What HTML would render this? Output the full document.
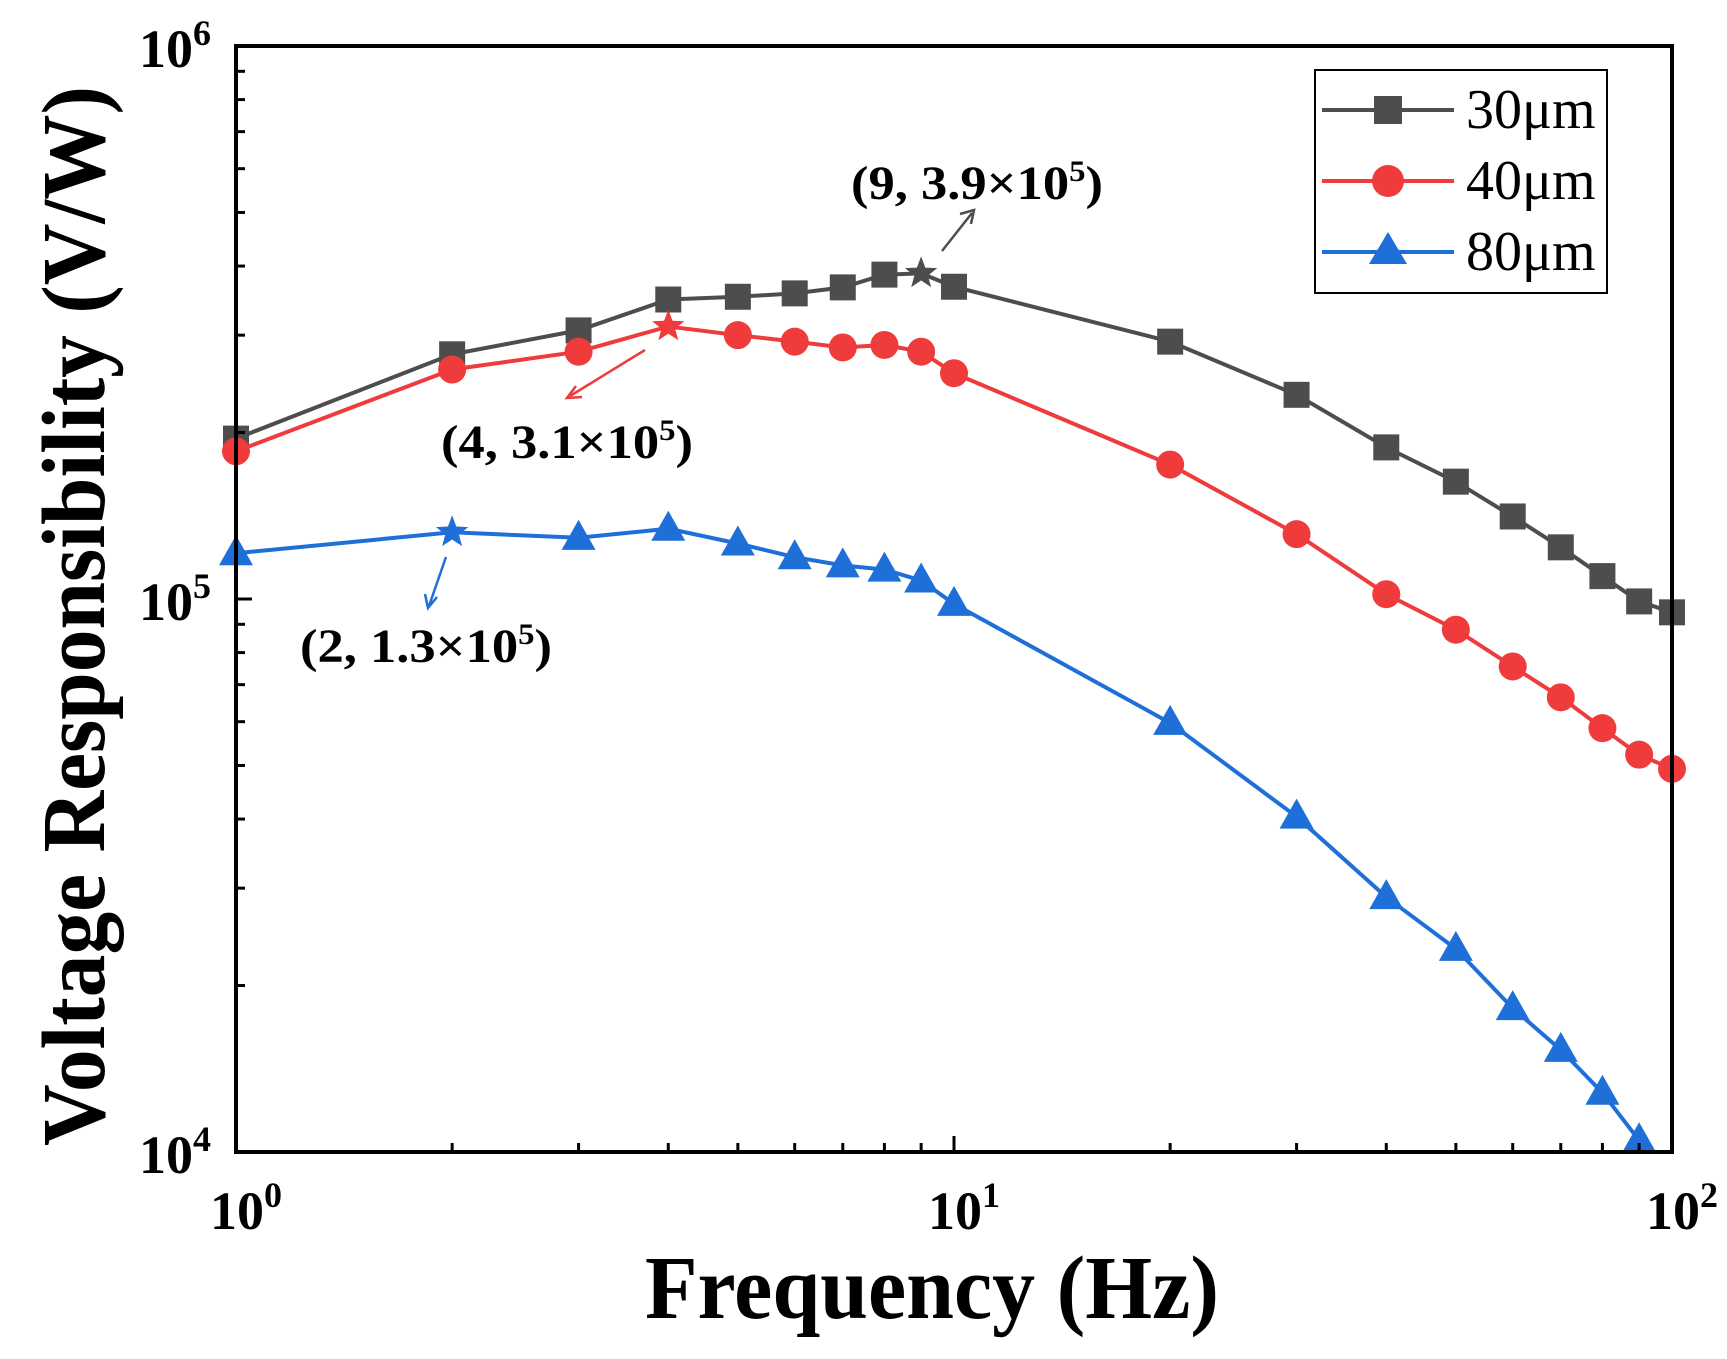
<!DOCTYPE html>
<html><head><meta charset="utf-8"><style>
html,body{margin:0;padding:0;background:#fff}
svg{display:block}
text{font-family:"Liberation Serif",serif;font-weight:bold;fill:#000}
</style></head><body>
<svg id="chart" width="1727" height="1359" viewBox="0 0 1727 1359" xmlns="http://www.w3.org/2000/svg">
<rect width="1727" height="1359" fill="#fff"/>
<g id="marks"></g>
<rect x="236" y="46" width="1436" height="1106" fill="none" stroke="#000" stroke-width="4"/>
<g id="ticks"></g>
<text x="932" y="1318" font-size="90" text-anchor="middle" textLength="574" lengthAdjust="spacingAndGlyphs">Frequency (Hz)</text>
<text transform="translate(104,616) rotate(-90)" font-size="90" text-anchor="middle" textLength="1060" lengthAdjust="spacingAndGlyphs">Voltage Responsibility (V/W)</text>
<g>
<rect x="1315" y="70" width="292" height="223" fill="#fff" stroke="#000" stroke-width="2"/>
<line x1="1322" y1="110" x2="1454" y2="110" stroke="#4d4d4d" stroke-width="4"/>
<rect x="1374" y="96" width="28" height="28" fill="#4d4d4d"/>
<text x="1466" y="128" font-size="56" style="font-weight:normal">30μm</text>
<line x1="1322" y1="181" x2="1454" y2="181" stroke="#ef3b3b" stroke-width="4"/>
<circle cx="1388" cy="181" r="16" fill="#ef3b3b"/>
<text x="1466" y="199" font-size="56" style="font-weight:normal">40μm</text>
<line x1="1322" y1="252" x2="1454" y2="252" stroke="#1f6fd8" stroke-width="4"/>
<polygon points="1388,232 1407,264 1369,264" fill="#1f6fd8"/>
<text x="1466" y="270" font-size="56" style="font-weight:normal">80μm</text>
</g>
<g>
<text x="851" y="199" font-size="48" textLength="252" lengthAdjust="spacingAndGlyphs">(9, 3.9×10<tspan dy="-18" font-size="30">5</tspan><tspan dy="18">)</tspan></text>
<line x1="942" y1="251" x2="972" y2="213" stroke="#4d4d4d" stroke-width="2.5"/>
<polyline points="960,214 974,210 971,224" fill="none" stroke="#4d4d4d" stroke-width="2.5"/>
<text x="441" y="458" font-size="48" textLength="252" lengthAdjust="spacingAndGlyphs">(4, 3.1×10<tspan dy="-18" font-size="30">5</tspan><tspan dy="18">)</tspan></text>
<line x1="645" y1="350" x2="570" y2="396" stroke="#ef3b3b" stroke-width="2.5"/>
<polyline points="576,386 567,398 582,397" fill="none" stroke="#ef3b3b" stroke-width="2.5"/>
<text x="300" y="662" font-size="48" textLength="252" lengthAdjust="spacingAndGlyphs">(2, 1.3×10<tspan dy="-18" font-size="30">5</tspan><tspan dy="18">)</tspan></text>
<line x1="446" y1="557" x2="429" y2="606" stroke="#1f6fd8" stroke-width="2.5"/>
<polyline points="425,594 428,608 437,597" fill="none" stroke="#1f6fd8" stroke-width="2.5"/>
</g>
</svg>
<script>
const freqs = [1,2,3,4,5,6,7,8,9,10,20,30,40,50,60,70,80,90,100];
const r30 = [1.95e5,2.77e5,3.06e5,3.48e5,3.52e5,3.57e5,3.66e5,3.86e5,3.88e5,3.67e5,2.92e5,2.34e5,1.88e5,1.63e5,1.41e5,1.24e5,1.10e5,0.99e5,0.946e5];
const r40 = [1.85e5,2.60e5,2.80e5,3.11e5,3.00e5,2.92e5,2.85e5,2.88e5,2.80e5,2.56e5,1.75e5,1.31e5,1.02e5,8.8e4,7.55e4,6.64e4,5.84e4,5.23e4,4.93e4];
const freqs80 = [1,2,3,4,5,6,7,8,9,10,20,30,40,50,60,70,80,90];
const r80 = [1.21e5,1.32e5,1.29e5,1.34e5,1.26e5,1.19e5,1.15e5,1.13e5,1.08e5,0.98e5,5.97e4,4.04e4,2.89e4,2.33e4,1.82e4,1.53e4,1.28e4,1.05e4];
const starIdx30 = 8, starIdx40 = 3, starIdx80 = 1;
const xTickExps = [0,1,2];
const yTickExps = [4,5,6];

const X0=236,X1=1672,Y0=1152,Y1=46;
function sx(v){return X0+(Math.log10(v)-0)/2*(X1-X0);}
function sy(v){return Y0-(Math.log10(v)-4)/2*(Y0-Y1);}
const NS="http://www.w3.org/2000/svg";
const marks=document.getElementById('marks');
const ticks=document.getElementById('ticks');
function mk(tag,attrs,parent){const e=document.createElementNS(NS,tag);for(const k in attrs)e.setAttribute(k,attrs[k]);parent.appendChild(e);return e;}
function star(cx,cy,R){let p=[];for(let i=0;i<10;i++){const r=i%2?R*0.42:R;const a=-Math.PI/2+i*Math.PI/5;p.push((cx+r*Math.cos(a)).toFixed(1)+','+(cy+r*Math.sin(a)).toFixed(1));}return p.join(' ');}

function series(xs,ys,color,shape,starIdx,name){
  const g=mk('g',{},marks);
  
  
  const pts=xs.map((x,i)=>sx(x).toFixed(1)+','+sy(ys[i]).toFixed(1)).join(' ');
  const pl=mk('polyline',{points:pts,fill:'none',stroke:color,'stroke-width':4},g);
  
  
  xs.forEach((x,i)=>{
    const cx=sx(x),cy=sy(ys[i]);let m;
    if(i===starIdx){m=mk('polygon',{points:star(cx,cy,17),fill:color},g);}
    else if(shape==='square'){m=mk('rect',{x:cx-13,y:cy-13,width:26,height:26,fill:color},g);}
    else if(shape==='circle'){m=mk('circle',{cx:cx,cy:cy,r:14,fill:color},g);}
    else {m=mk('polygon',{points:`${cx},${cy-18} ${cx+17},${cy+12} ${cx-17},${cy+12}`,fill:color},g);}
    
    
  });
}
series(freqs,r30,'#4d4d4d','square',starIdx30,'30um');
series(freqs,r40,'#ef3b3b','circle',starIdx40,'40um');
series(freqs80,r80,'#1f6fd8','triangle',starIdx80,'80um');

for(let d=0;d<2;d++){for(let k=2;k<=9;k++){const x=sx(k*Math.pow(10,d));mk('line',{x1:x,y1:Y0,x2:x,y2:Y0-9,stroke:'#000','stroke-width':3},ticks);}}
for(let d=4;d<6;d++){for(let k=2;k<=9;k++){const y=sy(k*Math.pow(10,d));mk('line',{x1:X0,y1:y,x2:X0+9,y2:y,stroke:'#000','stroke-width':3},ticks);}}
xTickExps.forEach(e=>{
  const x=sx(Math.pow(10,e));
  mk('line',{x1:x,y1:Y0,x2:x,y2:Y0-16,stroke:'#000','stroke-width':3},ticks);
  const t=mk('text',{x:x-26,y:1229,'font-size':54},ticks);
  
  
  t.textContent='10';
  const s=mk('tspan',{dy:-22,'font-size':36},t);s.textContent=String(e);
});
yTickExps.forEach(e=>{
  const y=sy(Math.pow(10,e));
  mk('line',{x1:X0,y1:y,x2:X0+16,y2:y,stroke:'#000','stroke-width':3},ticks);
  const t=mk('text',{x:139,y:y+21,'font-size':54},ticks);
  
  
  t.textContent='10';
  const s=mk('tspan',{dy:-22,'font-size':36},t);s.textContent=String(e);
});
</script>
</body></html>
